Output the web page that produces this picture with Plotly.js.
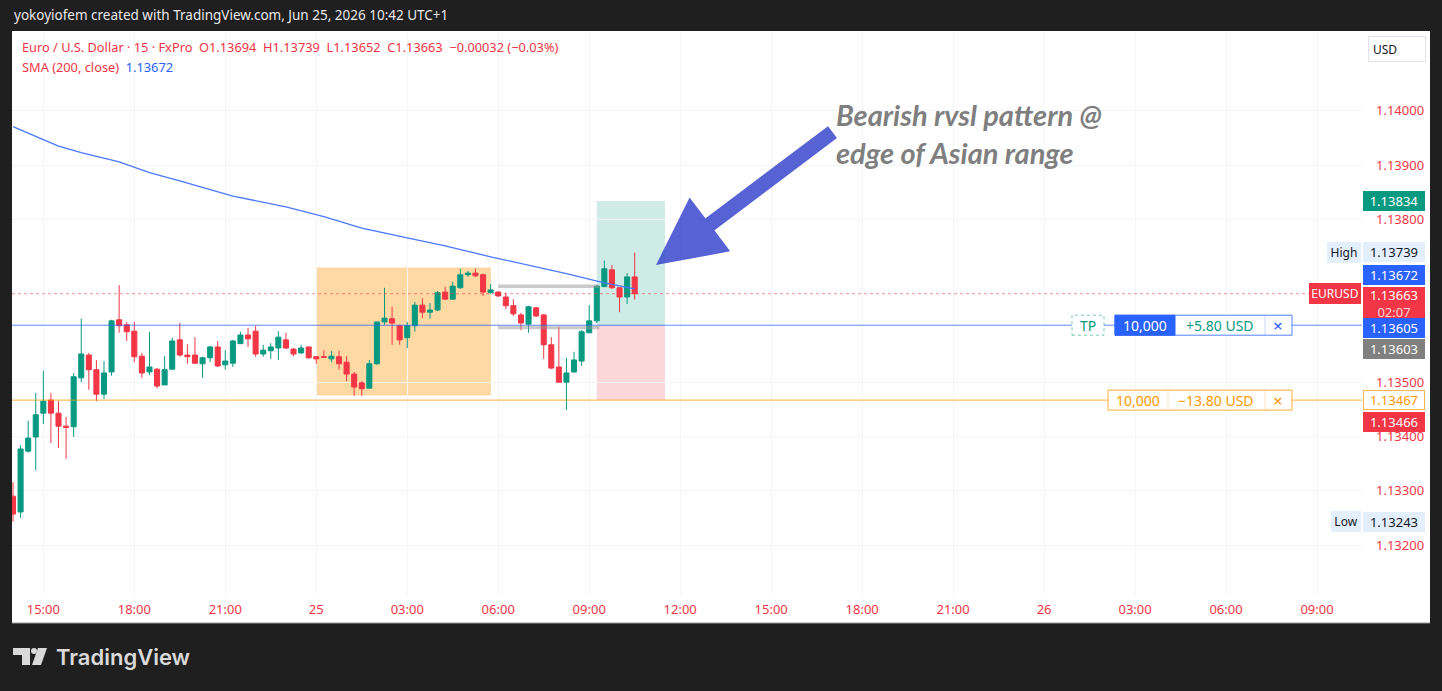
<!DOCTYPE html>
<html><head><meta charset="utf-8">
<script src="https://cdn.plot.ly/plotly-3.0.1.min.js"></script>
<style>html,body{margin:0;padding:0;background:#1f1f1f;overflow:hidden}#chart{width:1442px;height:691px}</style>
</head><body><div id="chart"></div>
<script>
// ---------- DATA ----------
const time = [
'2026-06-24 14:00','2026-06-24 14:15','2026-06-24 14:30','2026-06-24 14:45',
'2026-06-24 15:00','2026-06-24 15:15','2026-06-24 15:30','2026-06-24 15:45',
'2026-06-24 16:00','2026-06-24 16:15','2026-06-24 16:30','2026-06-24 16:45',
'2026-06-24 17:00','2026-06-24 17:15','2026-06-24 17:30','2026-06-24 17:45',
'2026-06-24 18:00','2026-06-24 18:15','2026-06-24 18:30','2026-06-24 18:45',
'2026-06-24 19:00','2026-06-24 19:15','2026-06-24 19:30','2026-06-24 19:45',
'2026-06-24 20:00','2026-06-24 20:15','2026-06-24 20:30','2026-06-24 20:45',
'2026-06-24 21:00','2026-06-24 21:15','2026-06-24 21:30','2026-06-24 21:45',
'2026-06-24 22:00','2026-06-24 22:15','2026-06-24 22:30','2026-06-24 22:45',
'2026-06-24 23:00','2026-06-24 23:15','2026-06-24 23:30','2026-06-24 23:45',
'2026-06-25 00:00','2026-06-25 00:15','2026-06-25 00:30','2026-06-25 00:45',
'2026-06-25 01:00','2026-06-25 01:15','2026-06-25 01:30','2026-06-25 01:45',
'2026-06-25 02:00','2026-06-25 02:15','2026-06-25 02:30','2026-06-25 02:45',
'2026-06-25 03:00','2026-06-25 03:15','2026-06-25 03:30','2026-06-25 03:45',
'2026-06-25 04:00','2026-06-25 04:15','2026-06-25 04:30','2026-06-25 04:45',
'2026-06-25 05:00','2026-06-25 05:15','2026-06-25 05:30','2026-06-25 05:45',
'2026-06-25 06:00','2026-06-25 06:15','2026-06-25 06:30','2026-06-25 06:45',
'2026-06-25 07:00','2026-06-25 07:15','2026-06-25 07:30','2026-06-25 07:45',
'2026-06-25 08:00','2026-06-25 08:15','2026-06-25 08:30','2026-06-25 08:45',
'2026-06-25 09:00','2026-06-25 09:15','2026-06-25 09:30','2026-06-25 09:45',
'2026-06-25 10:00','2026-06-25 10:15','2026-06-25 10:30'
];
const open = [
1.13290,1.13261,1.13373,1.13399,1.13443,1.13467,1.13443,1.13419,1.13418,1.13508,
1.13550,1.13523,1.13478,1.13519,1.13615,1.13606,1.13594,1.13548,1.13519,1.13524,
1.13495,1.13524,1.13578,1.13550,1.13550,1.13534,1.13545,1.13565,1.13532,1.13535,
1.13571,1.13587,1.13594,1.13552,1.13558,1.13563,1.13578,1.13561,1.13554,1.13565,
1.13547,1.13547,1.13543,1.13547,1.13537,1.13515,1.13499,1.13489,1.13534,1.13611,
1.13617,1.13604,1.13582,1.13604,1.13642,1.13629,1.13633,1.13666,1.13653,1.13674,
1.13698,1.13701,1.13698,1.13665,1.13666,1.13657,1.13641,1.13624,1.13607,1.13637,
1.13624,1.13569,1.13528,1.13500,1.13519,1.13539,1.13591,1.13613,1.13676,1.13707,
1.13674,1.13657,1.13694];
const high = [
1.13316,1.13384,1.13429,1.13480,1.13521,1.13480,1.13465,1.13436,1.13517,1.13617,
1.13554,1.13541,1.13539,1.13615,1.13679,1.13611,1.13611,1.13554,1.13593,1.13526,
1.13548,1.13582,1.13609,1.13570,1.13583,1.13547,1.13567,1.13576,1.13559,1.13578,
1.13593,1.13600,1.13604,1.13569,1.13572,1.13594,1.13591,1.13563,1.13569,1.13565,
1.13548,1.13559,1.13558,1.13558,1.13548,1.13519,1.13502,1.13541,1.13611,1.13674,
1.13639,1.13606,1.13611,1.13648,1.13655,1.13646,1.13668,1.13676,1.13685,1.13709,
1.13705,1.13709,1.13700,1.13681,1.13668,1.13665,1.13653,1.13628,1.13641,1.13639,
1.13626,1.13583,1.13602,1.13545,1.13556,1.13596,1.13642,1.13679,1.13724,1.13716,
1.13674,1.13701,1.13739];
const low = [
1.13243,1.13250,1.13370,1.13338,1.13423,1.13388,1.13379,1.13359,1.13399,1.13500,
1.13486,1.13465,1.13469,1.13512,1.13591,1.13576,1.13537,1.13508,1.13513,1.13489,
1.13495,1.13523,1.13547,1.13534,1.13534,1.13508,1.13537,1.13528,1.13523,1.13528,
1.13571,1.13565,1.13547,1.13547,1.13543,1.13541,1.13561,1.13548,1.13552,1.13543,
1.13534,1.13546,1.13537,1.13523,1.13502,1.13475,1.13475,1.13489,1.13532,1.13606,
1.13569,1.13569,1.13563,1.13593,1.13618,1.13617,1.13631,1.13652,1.13652,1.13672,
1.13694,1.13694,1.13659,1.13663,1.13657,1.13635,1.13622,1.13596,1.13591,1.13620,
1.13543,1.13524,1.13500,1.13449,1.13517,1.13530,1.13591,1.13609,1.13676,1.13672,
1.13629,1.13644,1.13652];
const close = [
1.13257,1.13377,1.13397,1.13440,1.13465,1.13443,1.13419,1.13417,1.13510,1.13552,
1.13523,1.13478,1.13517,1.13613,1.13604,1.13593,1.13547,1.13517,1.13528,1.13493,
1.13523,1.13576,1.13550,1.13547,1.13535,1.13545,1.13565,1.13530,1.13539,1.13576,
1.13587,1.13580,1.13552,1.13559,1.13565,1.13583,1.13563,1.13552,1.13563,1.13545,
1.13543,1.13546,1.13548,1.13534,1.13515,1.13491,1.13488,1.13534,1.13611,1.13618,
1.13609,1.13578,1.13604,1.13642,1.13629,1.13633,1.13665,1.13653,1.13677,1.13698,
1.13701,1.13696,1.13666,1.13670,1.13659,1.13641,1.13626,1.13609,1.13639,1.13622,
1.13569,1.13526,1.13500,1.13517,1.13541,1.13593,1.13613,1.13677,1.13709,1.13674,
1.13657,1.13694,1.13663];

// SMA(200, close) read at sampled bars
const smaTime = ['2026-06-24 14:00','2026-06-24 15:30','2026-06-24 16:15','2026-06-24 17:30','2026-06-24 18:30',
'2026-06-24 19:30','2026-06-24 21:15','2026-06-24 23:00','2026-06-25 00:15','2026-06-25 01:30','2026-06-25 03:00',
'2026-06-25 04:15','2026-06-25 05:45','2026-06-25 07:00','2026-06-25 08:15','2026-06-25 09:30','2026-06-25 10:30'];
const smaValue = [1.13971,1.13935,1.13923,1.13906,1.13886,1.13871,1.13843,1.13823,1.13805,1.13784,1.13766,
1.13751,1.13731,1.13716,1.13700,1.13683,1.13672];

// axis ticks
const tickVals = ['2026-06-24 15:00','2026-06-24 18:00','2026-06-24 21:00','2026-06-25 00:00','2026-06-25 03:00',
'2026-06-25 06:00','2026-06-25 09:00','2026-06-25 12:00','2026-06-25 15:00','2026-06-25 18:00','2026-06-25 21:00',
'2026-06-26 00:00','2026-06-26 03:00','2026-06-26 06:00','2026-06-26 09:00'];
const tickText = ['15:00','18:00','21:00','25','03:00','06:00','09:00','12:00','15:00','18:00','21:00','26','03:00','06:00','09:00'];
const priceTicks = [1.132, 1.133, 1.134, 1.135, 1.138, 1.139, 1.140];
const priceTickText = ['1.13200','1.13300','1.13400','1.13500','1.13800','1.13900','1.14000'];

// levels
const lastPrice = 1.13663, smaLast = 1.13672, tpPrice = 1.13605, entryPrice = 1.13603;
const targetPrice = 1.13834, slPrice = 1.13467, slMarket = 1.13466, dayHigh = 1.13739, dayLow = 1.13243;
const asianStart = '2026-06-25 00:00', asianEnd = '2026-06-25 05:45', asianHigh = 1.13711, asianLow = 1.13476;
const rangeStart = '2026-06-25 06:00', rangeEnd = '2026-06-25 09:20', rangeHigh = 1.13677, rangeLow = 1.13601;
const posStart = '2026-06-25 09:15', posEnd = '2026-06-25 11:30';
const orderQty = '10,000', tpPnl = '+5.80 USD', slPnl = '\u221213.80 USD';

// ---------- LAYOUT HELPERS ----------
const FONT = 'Noto Sans, Open Sans, sans-serif';
const RED = '#f23645', GREEN = '#089981', BLUE = '#2962ff', ORANGE = '#ff9800';
const px = x => (x - 12) / 1350;
const py = y => (595 - y) / 564;
const H = 0.000184; // half-height of order widgets (~10px)

const traces = [
  {type:'candlestick', x:time, open:open, high:high, low:low, close:close,
   increasing:{line:{color:GREEN,width:1}, fillcolor:GREEN},
   decreasing:{line:{color:RED,width:1}, fillcolor:RED},
   whiskerwidth:0, hoverinfo:'skip', showlegend:false},
  {type:'scatter', mode:'lines', x:smaTime, y:smaValue, line:{color:'#4a78ff', width:1.3},
   hoverinfo:'skip', showlegend:false}
];

const shapes = [
  {type:'rect', xref:'paper', yref:'paper', x0:0, x1:px(1430), y0:py(623), y1:1, fillcolor:'#ffffff', line:{width:0}, layer:'below'},
  {type:'line', xref:'paper', yref:'paper', x0:0, x1:px(1430), y0:py(623), y1:py(623), line:{color:'#9a9a9a', width:1}, layer:'below'},
  {type:'rect', xref:'x', yref:'y', x0:asianStart, x1:asianEnd, y0:asianLow, y1:asianHigh,
   fillcolor:'rgba(255,165,38,0.42)', line:{color:'rgba(255,165,38,0.15)', width:1}, layer:'below'},
  {type:'rect', xref:'x', yref:'y', x0:posStart, x1:posEnd, y0:tpPrice, y1:targetPrice,
   fillcolor:'rgba(8,153,129,0.2)', line:{width:0}, layer:'below'},
  {type:'rect', xref:'x', yref:'y', x0:posStart, x1:posEnd, y0:slPrice, y1:tpPrice,
   fillcolor:'rgba(242,54,69,0.2)', line:{width:0}, layer:'below'},
  {type:'line', xref:'paper', yref:'y', x0:0, x1:1, y0:lastPrice, y1:lastPrice, line:{color:'rgba(242,54,69,0.55)', width:1, dash:'dot'}},
  {type:'line', xref:'paper', yref:'y', x0:0, x1:1, y0:tpPrice, y1:tpPrice, line:{color:'rgba(41,98,255,0.75)', width:1}},
  {type:'line', xref:'paper', yref:'y', x0:0, x1:1, y0:slPrice, y1:slPrice, line:{color:'rgba(255,152,0,0.75)', width:1}},
  {type:'line', xref:'x', yref:'y', x0:rangeStart, x1:rangeEnd, y0:rangeHigh, y1:rangeHigh, line:{color:'rgba(150,150,150,0.5)', width:3.5}},
  {type:'line', xref:'x', yref:'y', x0:rangeStart, x1:rangeEnd, y0:rangeLow, y1:rangeLow, line:{color:'rgba(150,150,150,0.5)', width:3.5}},
  // TP widget
  {type:'rect', xref:'paper', yref:'y', x0:px(1072), x1:px(1104), y0:tpPrice-H, y1:tpPrice+H, fillcolor:'#ffffff', line:{color:'rgba(8,153,129,0.55)', width:1, dash:'dot'}},
  {type:'rect', xref:'paper', yref:'y', x0:px(1115), x1:px(1292), y0:tpPrice-H, y1:tpPrice+H, fillcolor:'#ffffff', line:{color:'rgba(41,98,255,0.8)', width:1}},
  {type:'rect', xref:'paper', yref:'y', x0:px(1115), x1:px(1175), y0:tpPrice-H, y1:tpPrice+H, fillcolor:BLUE, line:{color:BLUE, width:1}},
  {type:'line', xref:'paper', yref:'y', x0:px(1265), x1:px(1265), y0:tpPrice-H, y1:tpPrice+H, line:{color:'rgba(41,98,255,0.25)', width:1}},
  // SL widget
  {type:'rect', xref:'paper', yref:'y', x0:px(1108), x1:px(1292), y0:slPrice-H, y1:slPrice+H, fillcolor:'#ffffff', line:{color:'rgba(255,152,0,0.8)', width:1}},
  {type:'line', xref:'paper', yref:'y', x0:px(1168), x1:px(1168), y0:slPrice-H, y1:slPrice+H, line:{color:'rgba(255,152,0,0.25)', width:1}},
  {type:'line', xref:'paper', yref:'y', x0:px(1265), x1:px(1265), y0:slPrice-H, y1:slPrice+H, line:{color:'rgba(255,152,0,0.25)', width:1}},
  // TradingView logo
  {type:'rect', xref:'paper', yref:'paper', x0:px(13), x1:px(30), y0:py(655), y1:py(648), fillcolor:'#d9d9d9', line:{width:0}},
  {type:'rect', xref:'paper', yref:'paper', x0:px(22), x1:px(30), y0:py(665), y1:py(648), fillcolor:'#d9d9d9', line:{width:0}},
  {type:'circle', xref:'paper', yref:'paper', x0:px(31), x1:px(37), y0:py(654), y1:py(648), fillcolor:'#d9d9d9', line:{width:0}},
  {type:'path', xref:'paper', yref:'paper', path:`M ${px(38)},${py(648)} L ${px(47)},${py(648)} L ${px(41)},${py(665)} L ${px(32)},${py(665)} Z`, fillcolor:'#d9d9d9', line:{width:0}}
];

function axisLabel(price, text, bg, fg, yshift, border){
  return {xref:'paper', yref:'y', x:1, y:price, xanchor:'left', yanchor:'middle', xshift:1, yshift:yshift||0,
    text:text, showarrow:false, bgcolor:bg, bordercolor:border||bg, borderwidth:1, borderpad:2,
    width:56, height:14, align:'center', font:{family:FONT, size:13, color:fg}};
}
function sideTag(price, text, bg, fg, w, yshift){
  return {xref:'paper', yref:'y', x:1, y:price, xanchor:'right', yanchor:'middle', xshift:-1, yshift:yshift||0,
    text:text, showarrow:false, bgcolor:bg, bordercolor:bg, borderwidth:1, borderpad:2,
    width:w, height:15, align:'center', font:{family:FONT, size:12, color:fg}};
}
function widgetText(xp, price, text, color, size){
  return {xref:'paper', yref:'y', x:px(xp), y:price, xanchor:'center', yanchor:'middle', text:text, showarrow:false,
    font:{family:FONT, size:size||14, color:color}};
}
const NB = '\u00a0';
const annotations = [
  {xref:'paper', yref:'paper', x:0, y:py(15), xanchor:'left', yanchor:'middle', showarrow:false,
   text:'yokoyiofem created with TradingView.com, Jun 25, 2026 10:42 UTC+1', font:{family:FONT, size:13.5, color:'#e8e8e8'}},
  {xref:'paper', yref:'paper', x:px(20), y:py(47), xanchor:'left', yanchor:'middle', showarrow:false,
   text:'Euro / U.S. Dollar · 15 · FxPro'+NB+NB+'O1.13694'+NB+NB+'H1.13739'+NB+NB+'L1.13652'+NB+NB+'C1.13663'+NB+NB+'\u22120.00032 (\u22120.03%)',
   font:{family:FONT, size:12.8, color:RED}},
  {xref:'paper', yref:'paper', x:px(20), y:py(67), xanchor:'left', yanchor:'middle', showarrow:false,
   text:'SMA (200, close)'+NB+NB+'<span style="color:'+BLUE+'">'+smaLast.toFixed(5)+'</span>',
   font:{family:FONT, size:12.8, color:RED}},
  {xref:'paper', yref:'paper', x:px(1368), y:py(49), xanchor:'left', yanchor:'middle', showarrow:false,
   text:'USD', bgcolor:'#ffffff', bordercolor:'#e0e3eb', borderwidth:1, borderpad:4, width:48, height:16, align:'left',
   font:{family:FONT, size:12, color:'#131722'}},
  {xref:'paper', yref:'paper', x:px(834), y:py(134), xanchor:'left', yanchor:'middle', showarrow:false, align:'left',
   text:'Bearish rvsl pattern @<br>edge of Asian range',
   font:{family:'Lato, sans-serif', size:29, color:'#7f7f7f', weight:700, style:'italic'}},
  {xref:'paper', yref:'paper', x:px(656), y:py(265), text:'', showarrow:true, ax:178, ay:-134,
   arrowhead:2, arrowsize:0.9, arrowwidth:15, arrowcolor:'rgba(58,72,205,0.85)', standoff:0},
  // axis labels
  axisLabel(targetPrice, targetPrice.toFixed(5), GREEN, '#ffffff', 0),
  axisLabel(dayHigh, dayHigh.toFixed(5), '#e3effd', '#131722', 0),
  axisLabel(smaLast, smaLast.toFixed(5), BLUE, '#ffffff', 14),
  {xref:'paper', yref:'y', x:1, y:lastPrice, xanchor:'left', yanchor:'top', xshift:1, yshift:7,
   text:lastPrice.toFixed(5)+'<br><span style="color:#ffd6d9">02:07</span>', showarrow:false, bgcolor:RED, bordercolor:RED, borderwidth:1, borderpad:2,
   width:56, height:27, align:'center', font:{family:FONT, size:13, color:'#ffffff'}},
  axisLabel(tpPrice, tpPrice.toFixed(5), BLUE, '#ffffff', -3),
  axisLabel(entryPrice, entryPrice.toFixed(5), '#808080', '#ffffff', -23),
  axisLabel(slPrice, slPrice.toFixed(5), '#ffffff', ORANGE, 0, '#ffb74d'),
  axisLabel(slMarket, slMarket.toFixed(5), RED, '#ffffff', -21),
  axisLabel(dayLow, dayLow.toFixed(5), '#e3effd', '#131722', 0),
  sideTag(dayHigh, 'High', '#e3effd', '#131722', 28, 0),
  sideTag(dayLow, 'Low', '#e3effd', '#131722', 24, 0),
  sideTag(lastPrice, 'EURUSD', RED, '#ffffff', 46, 0),
  // order widgets
  widgetText(1088, tpPrice, 'TP', GREEN),
  widgetText(1145, tpPrice, orderQty, '#ffffff'),
  widgetText(1220, tpPrice, tpPnl, GREEN),
  widgetText(1278, tpPrice, '\u00d7', BLUE, 17),
  widgetText(1138, slPrice, orderQty, ORANGE),
  widgetText(1216, slPrice, slPnl, ORANGE),
  widgetText(1278, slPrice, '\u00d7', ORANGE, 17),
  // logo text
  {xref:'paper', yref:'paper', x:px(54), y:py(657), xanchor:'left', yanchor:'middle', showarrow:false,
   text:'TradingView', font:{family:'Inter, sans-serif', size:22, color:'#d9d9d9', weight:600}}
];

const layout = {
  width:1442, height:691, autosize:false,
  margin:{l:12, r:80, t:31, b:96, pad:0},
  paper_bgcolor:'#1f1f1f', plot_bgcolor:'rgba(0,0,0,0)',
  showlegend:false, hovermode:false, dragmode:false,
  boxgap:0.05, boxgroupgap:0.3,
  font:{family:FONT},
  xaxis:{type:'date', range:['2026-06-24 13:58','2026-06-26 10:29'], tickmode:'array', tickvals:tickVals, ticktext:tickText,
    tickfont:{family:FONT, size:13, color:RED}, showgrid:true, gridcolor:'#f4f5f8', zeroline:false, showline:false,
    ticks:'', ticklabelstandoff:5, rangeslider:{visible:false}, fixedrange:true},
  yaxis:{side:'right', range:[1.13108, 1.14147], tickmode:'array', tickvals:priceTicks, ticktext:priceTickText,
    tickfont:{family:FONT, size:13, color:RED}, showgrid:true, gridcolor:'#f4f5f8', zeroline:false, showline:false,
    ticks:'', ticklabelstandoff:13, fixedrange:true},
  shapes:shapes, annotations:annotations
};

Plotly.newPlot('chart', traces, layout, {displayModeBar:false, staticPlot:true});
</script></body></html>
